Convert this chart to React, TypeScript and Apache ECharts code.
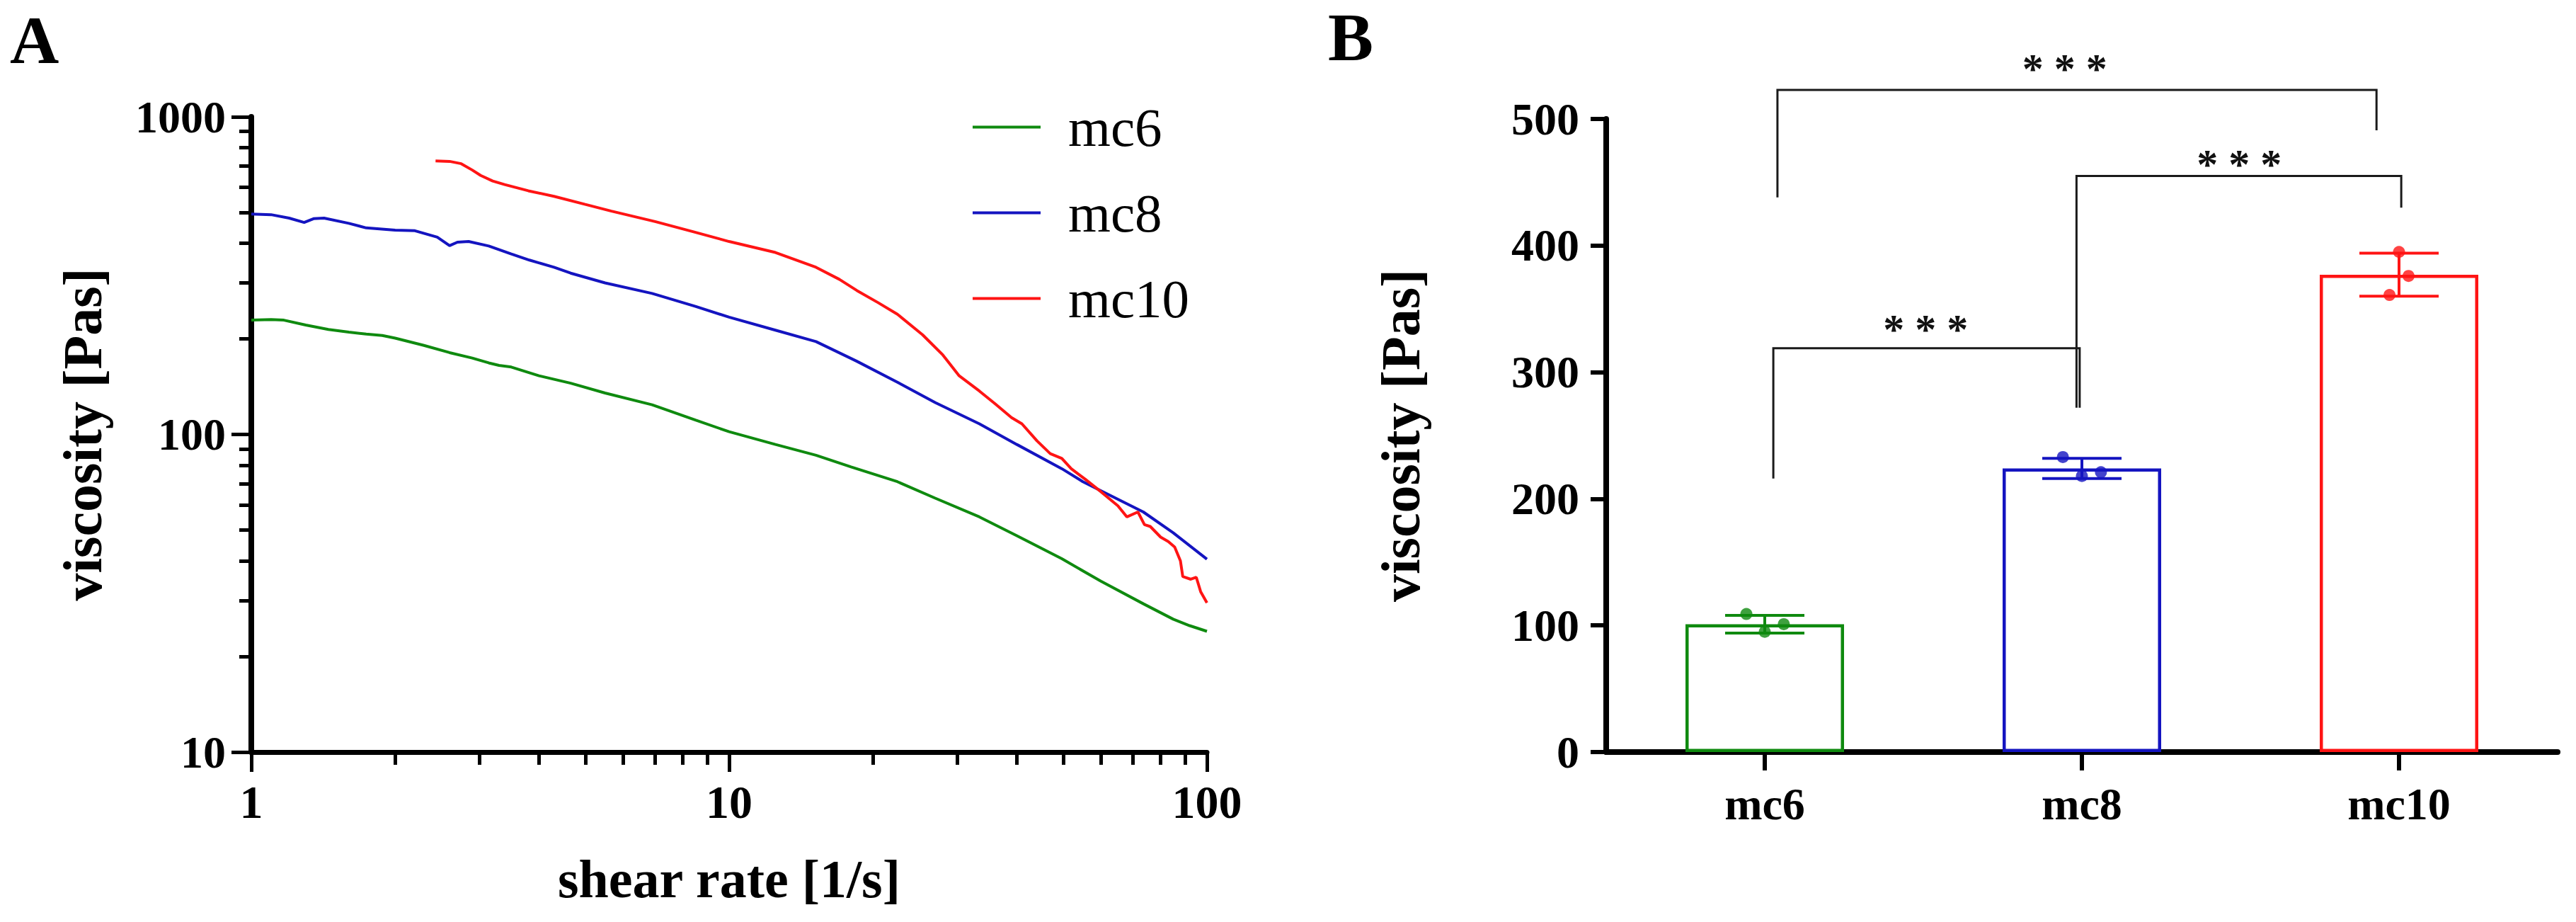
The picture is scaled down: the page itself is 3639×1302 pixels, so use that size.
import React, { useEffect, useRef } from "react";
import * as echarts from "echarts";

// ---------- Panel A data (shear rate [1/s] vs viscosity [Pas]) ----------
const mc6Shear = [1.0, 1.1, 1.17, 1.3, 1.45, 1.6, 1.74, 1.88, 2.0, 2.29, 2.6, 2.9, 3.14, 3.3, 3.5, 4.0, 4.66, 5.5, 6.9, 8.5, 10, 12.5, 15.2, 18, 22.5, 27, 33.4, 40, 49.7, 60, 73.6, 85, 92, 100];
const mc6Visc = [229, 230, 229, 221, 214, 210, 207, 205, 201, 191, 181, 174, 168, 165, 163, 153, 145, 135, 124, 111, 102, 93, 86, 79, 71, 63, 55, 48, 40.6, 34.5, 29.3, 26.2, 25, 24];

const mc8Shear = [1.0, 1.1, 1.2, 1.29, 1.35, 1.42, 1.6, 1.74, 2.0, 2.2, 2.45, 2.6, 2.7, 2.85, 3.14, 3.5, 3.82, 4.3, 4.66, 5.5, 6.9, 8.5, 10, 12.5, 15.2, 18.5, 22.5, 27, 33.4, 40, 49.7, 55, 60.6, 73.6, 85, 100];
const mc8Visc = [494, 492, 480, 465, 478, 480, 462, 447, 440, 438, 418, 393, 403, 405, 392, 370, 354, 336, 322, 300, 278, 253, 234, 213, 196, 170, 146, 126, 108, 93, 78, 71, 66, 57, 49, 40.5];

const mc10Shear = [2.43, 2.6, 2.75, 2.9, 3.02, 3.2, 3.39, 3.8, 4.3, 5.0, 5.67, 7, 8.4, 10, 12.5, 15.2, 17, 18.5, 20.5, 22.5, 25.4, 28, 30.3, 33.4, 36, 39, 41, 44.1, 47, 49.7, 52, 55.6, 60, 65.1, 68, 71.7, 74, 76.1, 80, 83, 85.6, 88, 89, 92.5, 95, 97, 100];
const mc10Visc = [726, 724, 712, 680, 654, 628, 612, 585, 562, 530, 505, 468, 435, 405, 374, 336, 308, 284, 260, 239, 206, 178, 153, 137, 125, 113, 108, 95.4, 87, 84, 78, 72.3, 66, 59.6, 55, 57, 52, 51.3, 47.5, 46, 44.2, 40, 35.7, 35, 35.5, 32, 29.5];

const lineNames = ["mc6", "mc8", "mc10"];
const xMinorTicksA = [2, 3, 4, 5, 6, 7, 8, 9, 20, 30, 40, 50, 60, 70, 80, 90];
const yMinorTicksA = [20, 30, 40, 50, 60, 70, 80, 90, 200, 300, 400, 500, 600, 700, 800, 900];

// ---------- Panel B data ----------
const barCategories = ["mc6", "mc8", "mc10"];
const barMeans = [101, 224, 377];
const barSD = [7, 8, 17];
const pointValues = [
  [109, 95, 101],
  [233, 218, 221],
  [395, 376, 361],
];
const pointJitter = [
  [-0.058, 0, 0.06],
  [-0.06, 0, 0.06],
  [0, 0.03, -0.03],
];
// bracket: [xLeft, xRight, yLeftBottom, yTop, yRightBottom] (x in category index units)
const brackets = [
  [0.027, 0.993, 216, 319, 272],
  [0.983, 2.007, 272, 455, 430],
  [0.04, 1.929, 438, 523, 491],
];
const starPositions = [
  [0.507, 339],
  [1.496, 469],
  [0.946, 545],
];
const starText = "* * *";

const GREEN = "#0f8a0f";
const BLUE = "#1414c0";
const RED = "#ff1414";
const colors = [GREEN, BLUE, RED];
const FONT = "'Liberation Serif', 'Times New Roman', serif";

const zip = (xs: number[], ys: number[]) => xs.map((x, i) => [x, ys[i]]);

export default function App() {
  const ref = useRef<HTMLDivElement>(null);

  useEffect(() => {
    document.body.style.margin = "0";
    if (!ref.current) return;
    const chart = echarts.init(ref.current, undefined, { renderer: "svg" });

    const lineData = [zip(mc6Shear, mc6Visc), zip(mc8Shear, mc8Visc), zip(mc10Shear, mc10Visc)];

    const scatterData: any[] = [];
    pointValues.forEach((vals, ci) => {
      vals.forEach((v, j) => {
        scatterData.push({ value: [ci + pointJitter[ci][j], v], itemStyle: { color: colors[ci] } });
      });
    });

    const labelFmt = (v: number) => String(Math.round(v));

    const option: any = {
      animation: false,
      backgroundColor: "#ffffff",
      textStyle: { fontFamily: FONT },
      graphic: [
        { type: "text", left: 14, top: 8, style: { text: "A", font: `bold 96px ${FONT}`, fill: "#000" } },
        { type: "text", left: 1876, top: 4, style: { text: "B", font: `bold 96px ${FONT}`, fill: "#000" } },
      ],
      legend: {
        data: lineNames,
        orient: "vertical",
        left: 1369,
        top: 114,
        icon: "rect",
        itemWidth: 96,
        itemHeight: 4,
        itemGap: 0,
        textStyle: {
          fontFamily: FONT,
          fontSize: 77,
          color: "#000",
          lineHeight: 121,
          padding: [0, 0, 0, 34],
        },
      },
      grid: [
        { left: 355, top: 165, width: 1350, height: 897, outerBoundsMode: "none", containLabel: false },
        { left: 2269, top: 168, width: 1344, height: 894, outerBoundsMode: "none", containLabel: false },
      ],
      xAxis: [
        {
          type: "log",
          logBase: 10,
          gridIndex: 0,
          min: 1,
          max: 100,
          position: "bottom",
          name: "shear rate [1/s]",
          nameLocation: "middle",
          nameGap: 141,
          nameTextStyle: { fontFamily: FONT, fontWeight: "bold", fontSize: 76, color: "#000" },
          axisLine: { onZero: false, lineStyle: { color: "#000", width: 7 } },
          axisTick: { show: true, length: 28, lineStyle: { color: "#000", width: 5 } },
          axisLabel: {
            margin: 37,
            fontFamily: FONT,
            fontWeight: "bold",
            fontSize: 66,
            color: "#000",
            formatter: labelFmt,
          },
          splitLine: { show: false },
        },
        {
          type: "category",
          gridIndex: 1,
          data: barCategories,
          position: "bottom",
          axisLine: { onZero: false, lineStyle: { color: "#000", width: 8 } },
          axisTick: { show: true, alignWithLabel: true, length: 26, lineStyle: { color: "#000", width: 6 } },
          axisLabel: { margin: 41, fontFamily: FONT, fontWeight: "bold", fontSize: 64, color: "#000" },
          splitLine: { show: false },
        },
        {
          type: "value",
          gridIndex: 1,
          min: -0.5,
          max: 2.5,
          show: false,
          splitLine: { show: false },
        },
        {
          // minor ticks of panel A x axis
          type: "log",
          logBase: 10,
          gridIndex: 0,
          min: 1,
          max: 100,
          position: "bottom",
          offset: 0,
          axisLine: { show: false, onZero: false },
          axisLabel: { show: false },
          axisTick: { show: true, length: 18, customValues: xMinorTicksA, lineStyle: { color: "#000", width: 5 } },
          splitLine: { show: false },
        },
      ],
      yAxis: [
        {
          type: "log",
          logBase: 10,
          gridIndex: 0,
          min: 10,
          max: 1000,
          position: "left",
          name: "viscosity [Pas]",
          nameLocation: "middle",
          nameGap: 200,
          nameTextStyle: { fontFamily: FONT, fontWeight: "bold", fontSize: 78, color: "#000" },
          axisLine: { show: true, onZero: false, lineStyle: { color: "#000", width: 8 } },
          axisTick: { show: true, length: 28, lineStyle: { color: "#000", width: 5 } },
          axisLabel: {
            margin: 36,
            fontFamily: FONT,
            fontWeight: "bold",
            fontSize: 64,
            color: "#000",
            formatter: labelFmt,
          },
          splitLine: { show: false },
        },
        {
          type: "value",
          gridIndex: 1,
          min: 0,
          max: 500,
          interval: 100,
          position: "left",
          name: "viscosity [Pas]",
          nameLocation: "middle",
          nameGap: 252,
          nameTextStyle: { fontFamily: FONT, fontWeight: "bold", fontSize: 78, color: "#000" },
          axisLine: { show: true, onZero: false, lineStyle: { color: "#000", width: 8 } },
          axisTick: { show: true, length: 22, lineStyle: { color: "#000", width: 6 } },
          axisLabel: { margin: 38, fontFamily: FONT, fontWeight: "bold", fontSize: 64, color: "#000" },
          splitLine: { show: false },
        },
        {
          // minor ticks of panel A y axis
          type: "log",
          logBase: 10,
          gridIndex: 0,
          min: 10,
          max: 1000,
          position: "left",
          offset: 0,
          axisLine: { show: false, onZero: false },
          axisLabel: { show: false },
          axisTick: { show: true, length: 17, customValues: yMinorTicksA, lineStyle: { color: "#000", width: 5 } },
          splitLine: { show: false },
        },
      ],
      series: [
        ...lineNames.map((n, i) => ({
          name: n,
          type: "line",
          xAxisIndex: 0,
          yAxisIndex: 0,
          data: lineData[i],
          showSymbol: false,
          symbol: "none",
          color: colors[i],
          lineStyle: { color: colors[i], width: 4 },
          z: 3 + (i === 2 ? 1 : 0),
        })),
        {
          type: "bar",
          name: "bars",
          xAxisIndex: 1,
          yAxisIndex: 1,
          barWidth: "50%",
          data: barMeans.map((m, i) => ({
            value: m,
            itemStyle: { color: "rgba(255,255,255,0)", borderColor: colors[i], borderWidth: 4.5 },
          })),
          z: 2,
        },
        {
          type: "custom",
          name: "errorbars",
          xAxisIndex: 2,
          yAxisIndex: 1,
          data: barMeans.map((m, i) => [i, m, barSD[i]]),
          clip: false,
          renderItem: (params: any, api: any) => {
            const x = api.value(0);
            const m = api.value(1);
            const sd = api.value(2);
            const top = api.coord([x, m + sd]);
            const bot = api.coord([x, m - sd]);
            const hw = api.size([0.125, 0])[0];
            const style = { stroke: colors[params.dataIndex], lineWidth: 4 };
            return {
              type: "group",
              children: [
                { type: "line", shape: { x1: top[0], y1: top[1], x2: bot[0], y2: bot[1] }, style },
                { type: "line", shape: { x1: top[0] - hw, y1: top[1], x2: top[0] + hw, y2: top[1] }, style },
                { type: "line", shape: { x1: bot[0] - hw, y1: bot[1], x2: bot[0] + hw, y2: bot[1] }, style },
              ],
            };
          },
          z: 4,
        },
        {
          type: "scatter",
          name: "points",
          xAxisIndex: 2,
          yAxisIndex: 1,
          symbol: "circle",
          symbolSize: 17,
          data: scatterData,
          z: 6,
        },
        {
          type: "custom",
          name: "brackets",
          xAxisIndex: 2,
          yAxisIndex: 1,
          data: brackets,
          encode: { x: [0, 1], y: [2, 3, 4] },
          clip: false,
          renderItem: (params: any, api: any) => {
            const x1 = api.value(0);
            const x2 = api.value(1);
            const a = api.coord([x1, api.value(2)]);
            const b = api.coord([x1, api.value(3)]);
            const c = api.coord([x2, api.value(3)]);
            const d = api.coord([x2, api.value(4)]);
            return {
              type: "polyline",
              shape: { points: [a, b, c, d] },
              style: { stroke: "#1a1a1a", lineWidth: 3, fill: "none" },
            };
          },
          z: 5,
        },
        {
          type: "custom",
          name: "stars",
          xAxisIndex: 2,
          yAxisIndex: 1,
          data: starPositions,
          clip: false,
          renderItem: (params: any, api: any) => {
            const p = api.coord([api.value(0), api.value(1)]);
            return {
              type: "text",
              x: p[0],
              y: p[1] + 9,
              style: {
                text: starText,
                fontFamily: FONT,
                fontWeight: "bold",
                fontSize: 60,
                fill: "#111",
                align: "center",
                verticalAlign: "middle",
              },
            };
          },
          z: 5,
        },
      ],
    };

    chart.setOption(option);
    return () => {
      chart.dispose();
    };
  }, []);

  return <div ref={ref} style={{ width: 3639, height: 1302 }} />;
}
